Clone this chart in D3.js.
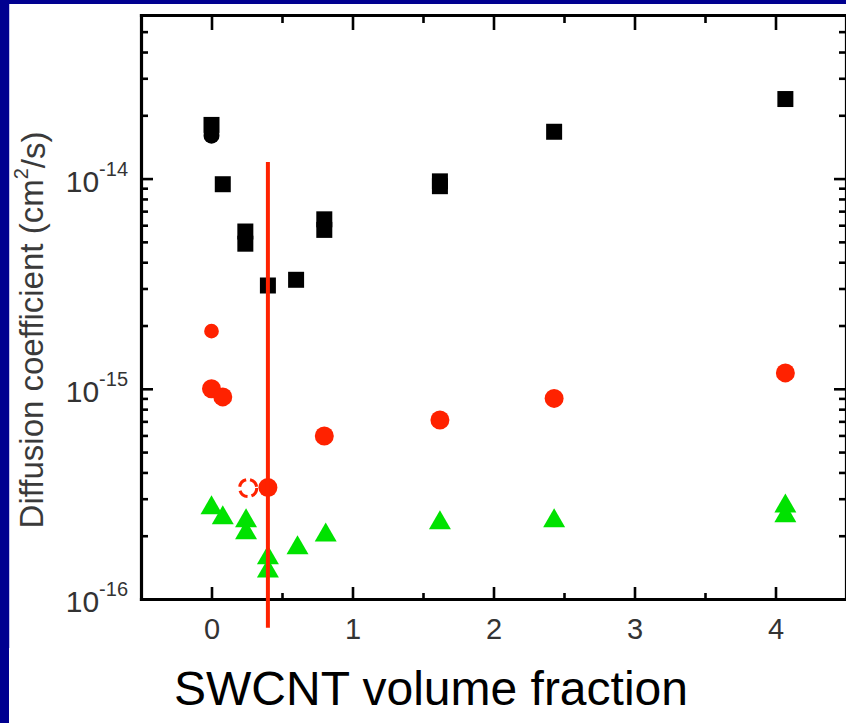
<!DOCTYPE html>
<html>
<head>
<meta charset="utf-8">
<script src="https://cdn.jsdelivr.net/npm/d3@7"></script>
<style>
  body { margin: 0; background: #fff; }
  svg { display: block; }
  text { font-family: "Liberation Sans", Arial, sans-serif; }
</style>
</head>
<body>
<script>
var WIDTH = 846;
var HEIGHT = 723;
var LEFT = 141, RIGHT = 846, TOP = 15, BOTTOM = 599;

// x tick values and y decade exponents
var xMajorTicks = [0, 1, 2, 3, 4];
var xMinorTicks = [-0.5, 0.5, 1.5, 2.5, 3.5, 4.5];
var yDecades = [-16, -15, -14];

// black squares
var squareX = [0, 0.08, 0.24, 0.24, 0.40, 0.60, 0.80, 0.80, 1.62, 1.62, 2.43, 4.07];
var squareY = [1.8e-14, 9.4e-15, 5.6e-15, 4.9e-15, 3.1e-15, 3.3e-15, 6.4e-15, 5.7e-15, 9.7e-15, 9.2e-15, 1.67e-14, 2.39e-14];

// black circle
var blackCircleX = [0];
var blackCircleY = [1.6e-14];

// red circles
var redX = [0, 0.08, 0.40, 0.80, 1.62, 2.43, 4.07];
var redY = [1.0e-15, 9.15e-16, 3.39e-16, 5.96e-16, 7.1e-16, 9.0e-16, 1.19e-15];

// red symbols partly washed out in the figure
var redFaintX = [0];
var redFaintY = [1.88e-15];
var redOpenX = [0.26];
var redOpenY = [3.37e-16];

// green triangles
var greenX = [0, 0.08, 0.245, 0.245, 0.40, 0.40, 0.61, 0.81, 1.62, 2.43, 4.07, 4.07];
var greenY = [2.8e-16, 2.51e-16, 2.43e-16, 2.13e-16, 1.62e-16, 1.40e-16, 1.81e-16, 2.08e-16, 2.38e-16, 2.43e-16, 2.86e-16, 2.57e-16];

// red vertical marker line
var markerX = [0.4, 0.4];
var markerY = [7.3e-17, 1.2e-14];

var RED = "#ff2200";
var GREEN = "#00e200";

var translate = function (x, y) {
  return "translate(" + x + "," + y + ")";
};

var xScale = d3.scaleLinear().domain([-0.5, 4.5]).range([LEFT, RIGHT]);
var yScale = d3.scaleLog().domain([1e-16, 6e-14]).range([BOTTOM, TOP]);

var yMinorTicks = [];
yDecades.forEach(function (e) {
  for (var m = 2; m <= 9; m++) {
    var v = m * Math.pow(10, e);
    if (v < 6e-14) yMinorTicks.push(v);
  }
});
var yMajorTicks = yDecades.map(function (e) { return Math.pow(10, e); });

var pairs = function (xs, ys) {
  return xs.map(function (x, i) { return [x, ys[i]]; });
};

var draw = function () {
  var svg = d3.select("body").append("svg")
    .attr("width", WIDTH)
    .attr("height", HEIGHT);

  svg.append("rect").attr("width", WIDTH).attr("height", HEIGHT).attr("fill", "#fff");

  // blue frame of the slide
  svg.append("rect").attr("x", 0).attr("y", 0).attr("width", WIDTH).attr("height", 4).attr("fill", "#000090");
  svg.append("rect").attr("x", 0).attr("y", 0).attr("width", 9).attr("height", HEIGHT).attr("fill", "#000090");
  svg.append("rect").attr("x", 9).attr("y", 4).attr("width", 1).attr("height", 644).attr("fill", "#c4c4ec");

  // axes: major + minor, ticks pointing inward
  var axisStyle = function (g, width) {
    g.select(".domain").attr("stroke-width", 3.2).attr("stroke-linecap", "square");
    g.selectAll(".tick line").attr("stroke-width", width);
  };

  var bottom = svg.append("g").attr("transform", translate(0, BOTTOM))
    .call(d3.axisBottom(xScale).tickValues(xMajorTicks).tickSizeInner(-12).tickSizeOuter(0).tickPadding(19).tickFormat(d3.format("d")));
  axisStyle(bottom, 2.6);
  bottom.selectAll(".tick text").attr("font-size", 29).attr("fill", "#333");
  var bottomMinor = svg.append("g").attr("transform", translate(0, BOTTOM))
    .call(d3.axisBottom(xScale).tickValues(xMinorTicks).tickSize(-6).tickFormat(""));
  bottomMinor.select(".domain").remove();
  bottomMinor.selectAll(".tick line").attr("stroke-width", 2.6);

  var top = svg.append("g").attr("transform", translate(0, TOP))
    .call(d3.axisTop(xScale).tickValues(xMajorTicks).tickSizeInner(-15).tickSizeOuter(0).tickFormat(""));
  axisStyle(top, 2.6);
  var topMinor = svg.append("g").attr("transform", translate(0, TOP))
    .call(d3.axisTop(xScale).tickValues(xMinorTicks).tickSize(-8).tickFormat(""));
  topMinor.select(".domain").remove();
  topMinor.selectAll(".tick line").attr("stroke-width", 2.6);

  var left = svg.append("g").attr("transform", translate(LEFT, 0))
    .call(d3.axisLeft(yScale).tickValues(yMajorTicks).tickSizeInner(-12).tickSizeOuter(0).tickPadding(13));
  axisStyle(left, 2.6);
  left.selectAll(".tick text")
    .attr("font-size", 30)
    .attr("fill", "#333")
    .attr("dy", "0.42em")
    .text(null)
    .each(function (d, i) {
      var t = d3.select(this);
      t.append("tspan").text("10");
      t.append("tspan").attr("font-size", 20).attr("dy", "-0.8em").text(String(yDecades[i]));
    });
  var leftMinor = svg.append("g").attr("transform", translate(LEFT, 0))
    .call(d3.axisLeft(yScale).tickValues(yMinorTicks).tickSize(-7).tickFormat(""));
  leftMinor.select(".domain").remove();
  leftMinor.selectAll(".tick line").attr("stroke-width", 2.6);

  var right = svg.append("g").attr("transform", translate(RIGHT, 0))
    .call(d3.axisRight(yScale).tickValues(yMajorTicks).tickSizeInner(-12).tickSizeOuter(0).tickFormat(""));
  axisStyle(right, 2.6);
  var rightMinor = svg.append("g").attr("transform", translate(RIGHT, 0))
    .call(d3.axisRight(yScale).tickValues(yMinorTicks).tickSize(-7).tickFormat(""));
  rightMinor.select(".domain").remove();
  rightMinor.selectAll(".tick line").attr("stroke-width", 2.6);

  // points
  var square = d3.symbol(d3.symbolSquare, 256);
  var circle = d3.symbol(d3.symbolCircle, 283);
  var triangle = d3.symbol(d3.symbolTriangle, 209);

  svg.append("g").selectAll("path")
    .data(pairs(squareX, squareY))
    .enter().append("path")
    .attr("d", square)
    .attr("transform", function (d) { return translate(xScale(d[0]), yScale(d[1])); })
    .attr("fill", "#000");

  svg.append("g").selectAll("path")
    .data(pairs(blackCircleX, blackCircleY))
    .enter().append("path")
    .attr("d", d3.symbol(d3.symbolCircle, 200))
    .attr("transform", function (d) { return translate(xScale(d[0]), yScale(d[1])); })
    .attr("fill", "#000");

  svg.append("g").selectAll("path")
    .data(pairs(greenX, greenY))
    .enter().append("path")
    .attr("d", triangle)
    .attr("transform", function (d) { return translate(xScale(d[0]), yScale(d[1]) + 3); })
    .attr("fill", GREEN);

  svg.append("g").selectAll("path")
    .data(pairs(redFaintX, redFaintY))
    .enter().append("path")
    .attr("d", d3.symbol(d3.symbolCircle, 170))
    .attr("transform", function (d) { return translate(xScale(d[0]), yScale(d[1])); })
    .attr("fill", RED);

  svg.append("g").selectAll("path")
    .data(pairs(redOpenX, redOpenY))
    .enter().append("path")
    .attr("d", d3.symbol(d3.symbolCircle, 230))
    .attr("transform", function (d) { return translate(xScale(d[0]), yScale(d[1])); })
    .attr("fill", "none")
    .attr("stroke", RED)
    .attr("stroke-width", 3)
    .attr("stroke-dasharray", "10,4");

  svg.append("g").selectAll("path")
    .data(pairs(redX, redY))
    .enter().append("path")
    .attr("d", circle)
    .attr("transform", function (d) { return translate(xScale(d[0]), yScale(d[1])); })
    .attr("fill", RED);

  // vertical red line
  var line = d3.line()
    .x(function (d) { return xScale(d[0]); })
    .y(function (d) { return yScale(d[1]); });
  svg.append("path")
    .attr("d", line(pairs(markerX, markerY)))
    .attr("stroke", RED)
    .attr("stroke-width", 4)
    .attr("fill", "none");

  // titles
  svg.append("text")
    .attr("x", 431)
    .attr("y", 705)
    .attr("text-anchor", "middle")
    .attr("font-size", 48)
    .attr("fill", "#000")
    .text("SWCNT volume fraction");

  var yTitle = svg.append("text")
    .attr("transform", translate(43, 330) + " rotate(-90)")
    .attr("text-anchor", "middle")
    .attr("font-size", 33)
    .attr("fill", "#3a3a3a");
  yTitle.append("tspan").text("Diffusion coefficient (cm");
  yTitle.append("tspan").attr("font-size", 20).attr("dy", "-0.75em").text("2");
  yTitle.append("tspan").attr("dy", "0.5em").text("/s)");
};

window.onload = draw;
</script>
</body>
</html>
